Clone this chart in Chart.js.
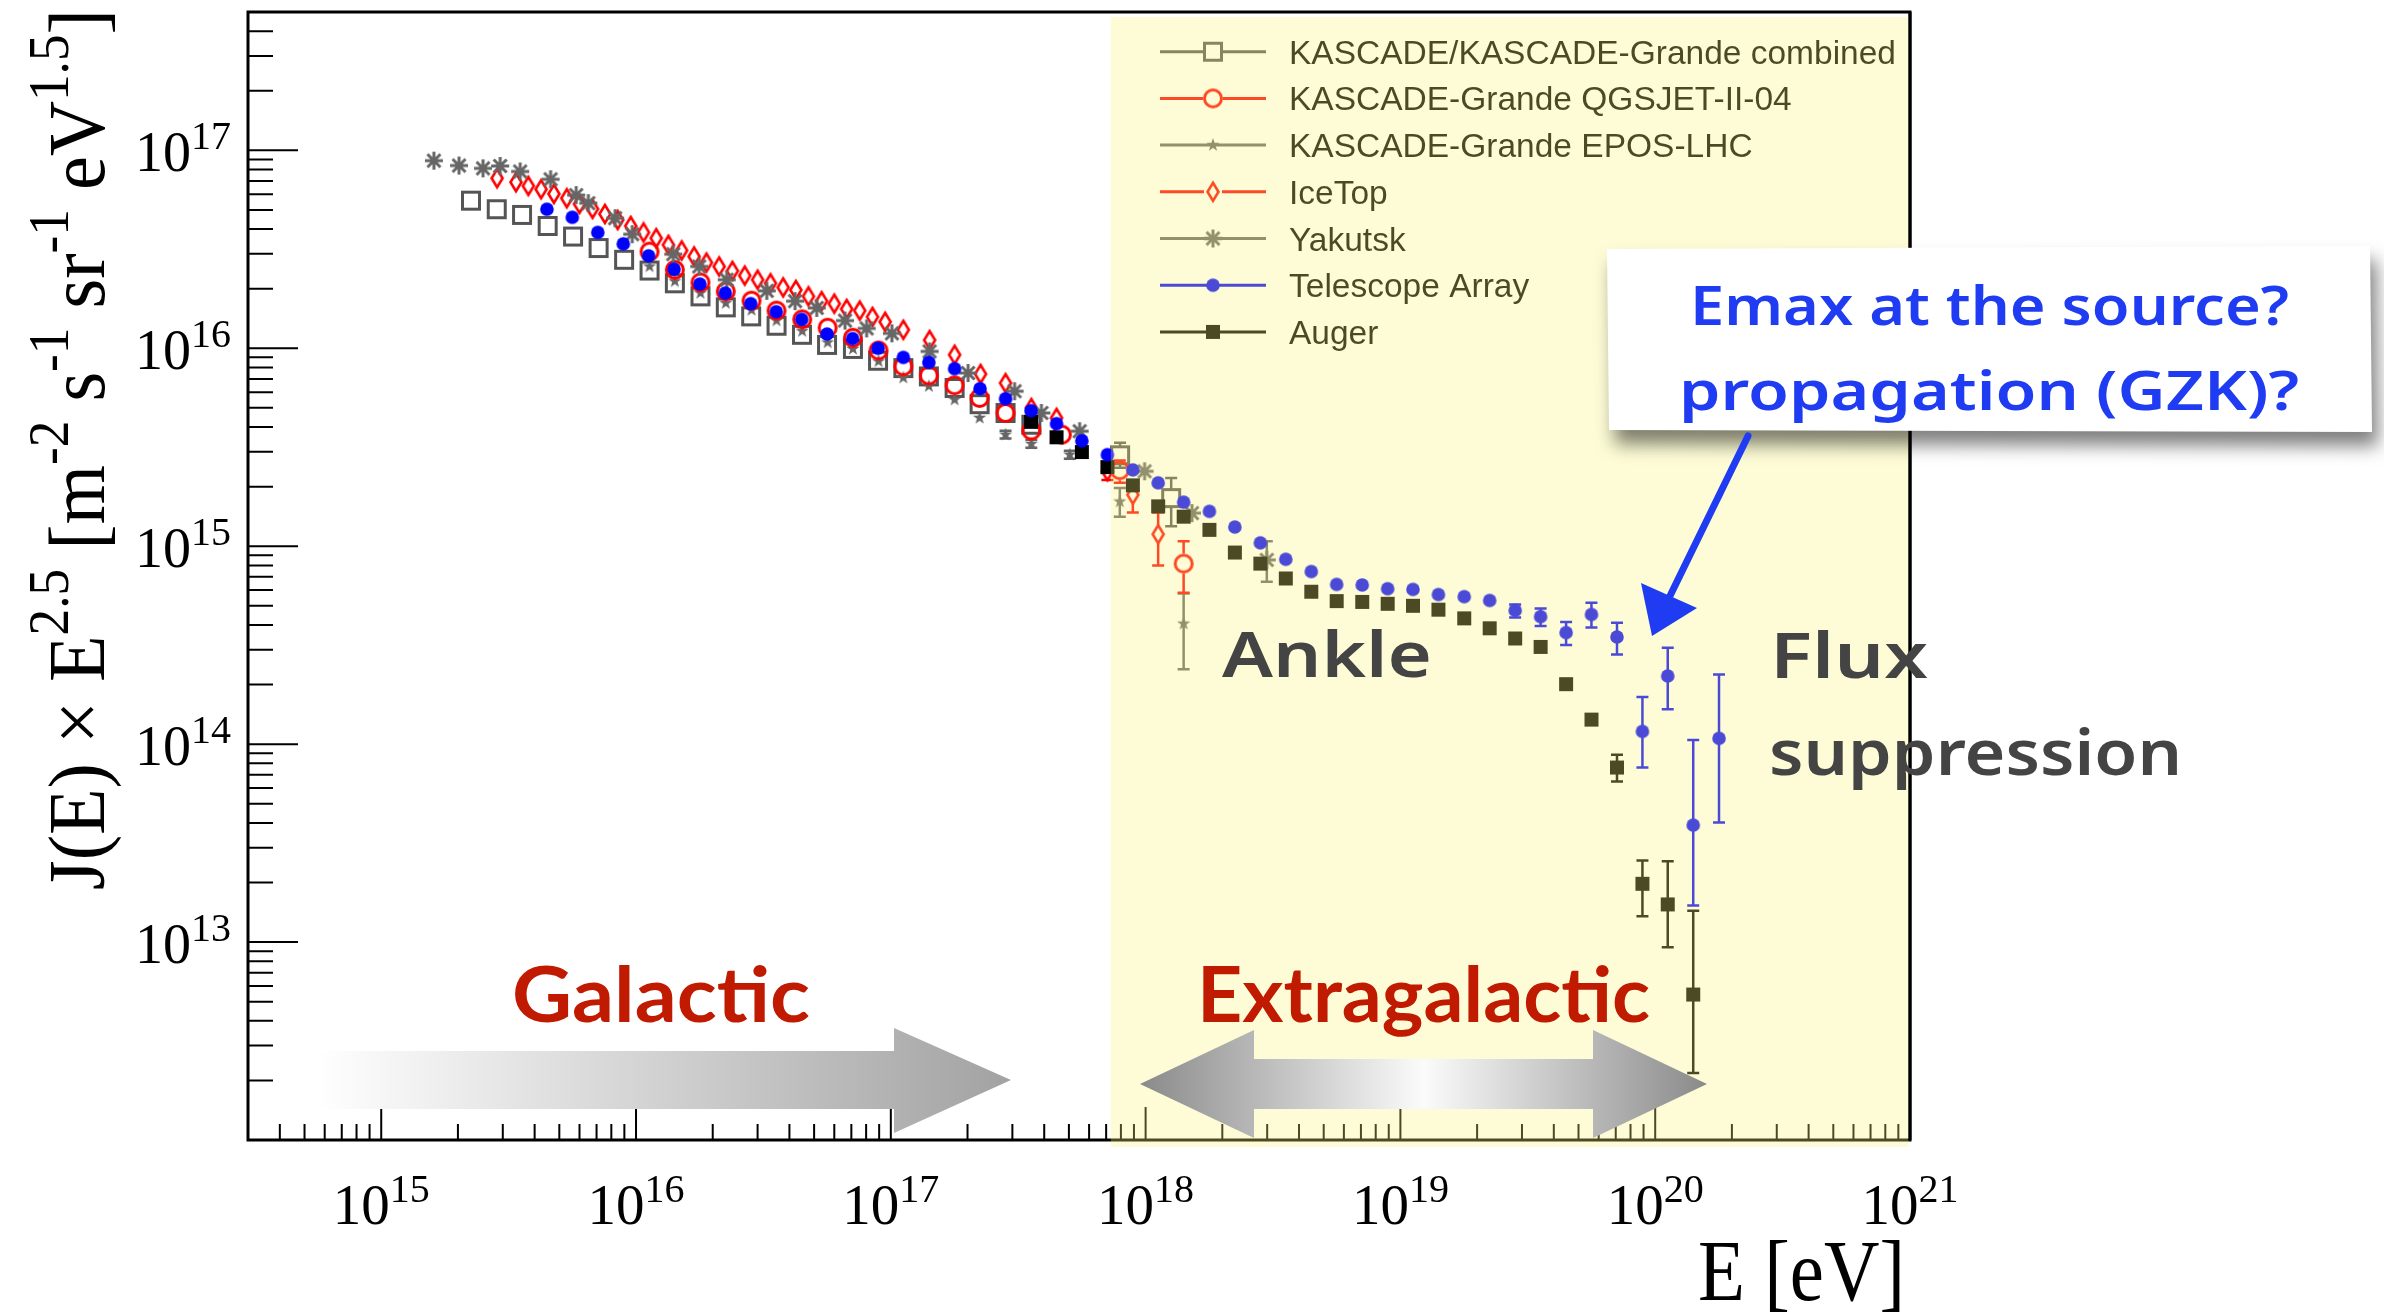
<!DOCTYPE html>
<html>
<head>
<meta charset="utf-8">
<title>Cosmic ray energy spectrum</title>
<script src="https://cdn.jsdelivr.net/npm/chart.js@4.4.1/dist/chart.umd.min.js"></script>
<style>
  html, body { margin: 0; padding: 0; background: #fff; }
  #wrap { width: 2384px; height: 1316px; }
</style>
</head>
<body>
<div id="wrap"><canvas id="spectrum" width="2384" height="1316"></canvas></div>
<script>
// ---- energies [eV] and flux J(E)*E^2.5 per experiment ----
const kgCombE = [2.25e15, 2.84e15, 3.57e15, 4.50e15, 5.66e15, 7.13e15, 8.98e15, 1.13e16, 1.42e16, 1.79e16, 2.25e16, 2.83e16, 3.56e16, 4.48e16, 5.62e16, 7.10e16, 8.91e16, 1.12e17, 1.41e17, 1.78e17, 2.23e17, 2.82e17, 3.56e17, 7.94e17, 1.26e18];
const kgCombJ = [5.57e16, 5.04e16, 4.72e16, 4.15e16, 3.67e16, 3.21e16, 2.80e16, 2.47e16, 2.13e16, 1.83e16, 1.61e16, 1.45e16, 1.30e16, 1.17e16, 1.04e16, 9.93e15, 8.65e15, 7.94e15, 7.21e15, 6.30e15, 5.22e15, 4.71e15, 4.11e15, 2.88e15, 1.75e15];
const kgCombErrE = [7.94e17, 1.26e18];
const kgCombErrLo = [2.49e15, 1.26e15];
const kgCombErrHi = [3.33e15, 2.21e15];

const qgsE = [1.13e16, 1.42e16, 1.79e16, 2.25e16, 2.84e16, 3.56e16, 4.49e16, 5.65e16, 7.10e16, 8.95e16, 1.12e17, 1.41e17, 1.78e17, 2.23e17, 2.82e17, 3.56e17, 4.69e17, 7.92e17, 1.41e18];
const qgsJ = [3.08e16, 2.49e16, 2.15e16, 1.94e16, 1.74e16, 1.55e16, 1.40e16, 1.27e16, 1.13e16, 9.75e15, 8.11e15, 7.29e15, 6.50e15, 5.61e15, 4.71e15, 3.84e15, 3.66e15, 2.42e15, 8.17e14];
const qgsErrE = [7.92e17, 1.41e18];
const qgsErrLo = [2.09e15, 5.82e14];
const qgsErrHi = [2.71e15, 1.06e15];

const eposE = [1.13e16, 1.42e16, 1.79e16, 2.25e16, 2.84e16, 3.56e16, 4.49e16, 5.65e16, 7.10e16, 8.95e16, 1.12e17, 1.41e17, 1.78e17, 2.23e17, 2.82e17, 3.56e17, 5.04e17, 7.92e17, 1.41e18];
const eposJ = [2.59e16, 2.18e16, 1.90e16, 1.69e16, 1.56e16, 1.38e16, 1.22e16, 1.07e16, 9.93e15, 8.59e15, 7.10e15, 6.43e15, 5.50e15, 4.45e15, 3.66e15, 3.29e15, 2.90e15, 1.68e15, 4.06e14];
const eposErrE = [2.82e17, 3.56e17, 5.04e17, 7.92e17, 1.41e18];
const eposErrLo = [3.50e15, 3.14e15, 2.77e15, 1.41e15, 2.39e14];
const eposErrHi = [3.83e15, 3.45e15, 3.04e15, 1.97e15, 5.77e14];

const iceTopE = [2.85e15, 3.38e15, 3.78e15, 4.24e15, 4.76e15, 5.35e15, 6.00e15, 6.75e15, 7.55e15, 8.47e15, 9.53e15, 1.07e16, 1.20e16, 1.34e16, 1.51e16, 1.69e16, 1.89e16, 2.12e16, 2.39e16, 2.67e16, 3.00e16, 3.37e16, 3.78e16, 4.24e16, 4.75e16, 5.35e16, 6.00e16, 6.71e16, 7.55e16, 8.47e16, 9.50e16, 1.12e17, 1.42e17, 1.78e17, 2.25e17, 2.82e17, 3.56e17, 4.47e17, 7.08e17, 8.91e17, 1.12e18];
const iceTopJ = [7.23e16, 6.90e16, 6.61e16, 6.36e16, 6.03e16, 5.73e16, 5.36e16, 5.06e16, 4.77e16, 4.45e16, 4.15e16, 3.85e16, 3.60e16, 3.33e16, 3.12e16, 2.91e16, 2.71e16, 2.59e16, 2.46e16, 2.33e16, 2.22e16, 2.13e16, 2.03e16, 1.97e16, 1.83e16, 1.73e16, 1.68e16, 1.58e16, 1.55e16, 1.44e16, 1.36e16, 1.24e16, 1.10e16, 9.27e15, 7.41e15, 6.67e15, 4.99e15, 4.45e15, 2.39e15, 1.82e15, 1.15e15];
const iceTopErrE = [7.08e17, 8.91e17, 1.12e18];
const iceTopErrLo = [2.16e15, 1.48e15, 8.0e14];
const iceTopErrHi = [2.49e15, 2.01e15, 1.48e15];

const yakutskE = [1.61e15, 2.02e15, 2.51e15, 2.93e15, 3.51e15, 4.62e15, 5.82e15, 6.50e15, 8.28e15, 9.66e15, 1.40e16, 1.77e16, 2.27e16, 3.26e16, 4.21e16, 5.12e16, 6.61e16, 8.04e16, 1.01e17, 1.42e17, 2.01e17, 3.06e17, 3.90e17, 5.51e17, 9.91e17, 1.52e18, 2.99e18];
const yakutskJ = [8.87e16, 8.38e16, 8.11e16, 8.34e16, 7.82e16, 7.14e16, 5.94e16, 5.41e16, 4.54e16, 3.77e16, 2.99e16, 2.59e16, 2.22e16, 1.95e16, 1.73e16, 1.60e16, 1.38e16, 1.26e16, 1.19e16, 9.64e15, 7.50e15, 6.07e15, 4.71e15, 3.81e15, 2.39e15, 1.47e15, 8.53e14];
const yakutskErrE = [2.99e18];
const yakutskErrLo = [6.61e14];
const yakutskErrHi = [1.06e15];

const taE = [4.47e15, 5.62e15, 7.08e15, 8.91e15, 1.12e16, 1.41e16, 1.78e16, 2.24e16, 2.82e16, 3.55e16, 4.47e16, 5.62e16, 7.08e16, 8.91e16, 1.12e17, 1.41e17, 1.78e17, 2.24e17, 2.82e17, 3.55e17, 4.47e17, 5.62e17, 7.08e17, 8.91e17, 1.12e18, 1.41e18, 1.78e18, 2.24e18, 2.82e18, 3.55e18, 4.47e18, 5.62e18, 7.08e18, 8.91e18, 1.12e19, 1.41e19, 1.78e19, 2.24e19, 2.82e19, 3.55e19, 4.47e19, 5.62e19, 7.08e19, 8.91e19, 1.12e20, 1.41e20, 1.78e20];
const taJ = [5.04e16, 4.59e16, 3.85e16, 3.37e16, 2.93e16, 2.51e16, 2.11e16, 1.90e16, 1.68e16, 1.53e16, 1.40e16, 1.18e16, 1.12e16, 1.00e16, 8.99e15, 8.49e15, 7.89e15, 6.25e15, 5.56e15, 4.84e15, 4.16e15, 3.41e15, 2.90e15, 2.43e15, 2.09e15, 1.67e15, 1.50e15, 1.25e15, 1.04e15, 8.59e14, 7.45e14, 6.41e14, 6.37e14, 6.10e14, 6.05e14, 5.70e14, 5.56e14, 5.32e14, 4.74e14, 4.41e14, 3.66e14, 4.52e14, 3.48e14, 1.16e14, 2.21e14, 3.90e13, 1.07e14];
const taErrE = [2.82e19, 3.55e19, 4.47e19, 5.62e19, 7.08e19, 8.91e19, 1.12e20, 1.41e20, 1.78e20];
const taErrLo = [4.36e14, 3.95e14, 3.17e14, 3.88e14, 2.84e14, 7.62e13, 1.50e14, 1.53e13, 4.02e13];
const taErrHi = [5.08e14, 4.85e14, 4.14e14, 5.18e14, 4.10e14, 1.73e14, 3.07e14, 1.05e14, 2.25e14];

const augerE = [3.55e17, 4.47e17, 5.62e17, 7.08e17, 8.91e17, 1.12e18, 1.41e18, 1.78e18, 2.24e18, 2.82e18, 3.55e18, 4.47e18, 5.62e18, 7.08e18, 8.91e18, 1.12e19, 1.41e19, 1.78e19, 2.24e19, 2.82e19, 3.55e19, 4.47e19, 5.62e19, 7.08e19, 8.91e19, 1.12e20, 1.41e20];
const augerJ = [4.25e15, 3.55e15, 2.99e15, 2.51e15, 2.03e15, 1.59e15, 1.41e15, 1.21e15, 9.29e14, 8.17e14, 6.87e14, 5.89e14, 5.28e14, 5.23e14, 5.12e14, 5.00e14, 4.78e14, 4.32e14, 3.85e14, 3.42e14, 3.10e14, 2.01e14, 1.33e14, 7.62e13, 1.97e13, 1.55e13, 5.43e12];
const augerErrE = [7.08e19, 8.91e19, 1.12e20, 1.41e20];
const augerErrLo = [6.47e13, 1.35e13, 9.42e12, 2.18e12];
const augerErrHi = [8.83e13, 2.58e13, 2.56e13, 1.44e13];

// axis ranges and labelled decades
const xMin = 3e14, xMax = 1e21;
const yMin = 1e12, yMax = 5e17;
const xTickExp = [15, 16, 17, 18, 19, 20, 21];
const yTickExp = [13, 14, 15, 16, 17];
const extragalacticFrom = 7.3e17;

// ---- marker images (ROOT-like symbols) ----
function marker(w, h, paint) {
    const c = document.createElement('canvas');
    c.width = w; c.height = h;
    paint(c.getContext('2d'), w / 2, h / 2);
    return c;
}

const mkOpenSquare = marker(26, 26, (g, cx, cy) => {
    g.strokeStyle = '#555'; g.lineWidth = 3;
    g.strokeRect(cx - 8.5, cy - 8.5, 17, 17);
});
const mkOpenCircle = marker(26, 26, (g, cx, cy) => {
    g.strokeStyle = '#ff0000'; g.lineWidth = 3;
    g.beginPath(); g.arc(cx, cy, 8.5, 0, Math.PI * 2); g.stroke();
});
const mkStar = marker(18, 18, (g, cx, cy) => {
    g.fillStyle = '#666';
    g.beginPath();
    for (let i = 0; i < 10; i++) {
        const r = i % 2 ? 2.8 : 7;
        const a = -Math.PI / 2 + i * Math.PI / 5;
        g.lineTo(cx + r * Math.cos(a), cy + r * Math.sin(a));
    }
    g.closePath(); g.fill();
});
const mkDiamond = marker(18, 24, (g, cx, cy) => {
    g.strokeStyle = '#ff0000'; g.lineWidth = 2.6;
    g.beginPath();
    g.moveTo(cx, cy - 9); g.lineTo(cx + 5.5, cy); g.lineTo(cx, cy + 9); g.lineTo(cx - 5.5, cy);
    g.closePath(); g.stroke();
});
const mkAsterisk = marker(24, 24, (g, cx, cy) => {
    g.strokeStyle = '#666'; g.lineWidth = 3;
    g.beginPath();
    g.moveTo(cx - 9, cy); g.lineTo(cx + 9, cy);
    g.moveTo(cx, cy - 9); g.lineTo(cx, cy + 9);
    g.moveTo(cx - 6.5, cy - 6.5); g.lineTo(cx + 6.5, cy + 6.5);
    g.moveTo(cx - 6.5, cy + 6.5); g.lineTo(cx + 6.5, cy - 6.5);
    g.stroke();
});
const mkDot = marker(16, 16, (g, cx, cy) => {
    g.fillStyle = '#0000ff';
    g.beginPath(); g.arc(cx, cy, 6.8, 0, Math.PI * 2); g.fill();
});
const mkBlock = marker(16, 16, (g, cx, cy) => {
    g.fillStyle = '#000';
    g.fillRect(cx - 7, cy - 7, 14, 14);
});

const pts = (xs, ys) => xs.map((x, i) => ({ x, y: ys[i] }));

const datasets = [
    { label: 'KASCADE/KASCADE-Grande combined', data: pts(kgCombE, kgCombJ), pointStyle: mkOpenSquare, color: '#555', gap: 9, order: 7,
      err: { e: kgCombErrE, lo: kgCombErrLo, hi: kgCombErrHi } },
    { label: 'KASCADE-Grande QGSJET-II-04', data: pts(qgsE, qgsJ), pointStyle: mkOpenCircle, color: '#ff0000', gap: 10, order: 5,
      err: { e: qgsErrE, lo: qgsErrLo, hi: qgsErrHi } },
    { label: 'KASCADE-Grande EPOS-LHC', data: pts(eposE, eposJ), pointStyle: mkStar, color: '#666', gap: 0, order: 6,
      err: { e: eposErrE, lo: eposErrLo, hi: eposErrHi } },
    { label: 'IceTop', data: pts(iceTopE, iceTopJ), pointStyle: mkDiamond, color: '#ff0000', gap: 9, order: 4,
      err: { e: iceTopErrE, lo: iceTopErrLo, hi: iceTopErrHi } },
    { label: 'Yakutsk', data: pts(yakutskE, yakutskJ), pointStyle: mkAsterisk, color: '#666', gap: 0, order: 3,
      err: { e: yakutskErrE, lo: yakutskErrLo, hi: yakutskErrHi } },
    { label: 'Telescope Array', data: pts(taE, taJ), pointStyle: mkDot, color: '#0000ff', gap: 0, order: 1,
      err: { e: taErrE, lo: taErrLo, hi: taErrHi } },
    { label: 'Auger', data: pts(augerE, augerJ), pointStyle: mkBlock, color: '#000', gap: 0, order: 2,
      err: { e: augerErrE, lo: augerErrLo, hi: augerErrHi } }
];
datasets.forEach(ds => { ds.pointRadius = 8; ds.showLine = false; });

// ---- text helpers ----
const SERIF = '"Liberation Serif", "Times New Roman", serif';

// parts: [text, isSuperscript]
function drawRich(ctx, parts, x, y, o) {
    const widths = parts.map(([t, sup]) => {
        ctx.font = sup ? o.sup : o.main;
        return ctx.measureText(t).width;
    });
    const total = widths.reduce((a, b) => a + b, 0);
    const sx = o.width ? o.width / total : 1;
    ctx.save();
    ctx.translate(x, y);
    if (o.rotate) ctx.rotate(o.rotate);
    ctx.scale(sx, 1);
    ctx.fillStyle = o.color || '#000';
    ctx.textBaseline = 'alphabetic';
    ctx.textAlign = 'left';
    let cx = o.align === 'right' ? -total : o.align === 'center' ? -total / 2 : 0;
    parts.forEach(([t, sup], i) => {
        ctx.font = sup ? o.sup : o.main;
        ctx.fillText(t, cx, sup ? -o.rise : 0);
        cx += widths[i];
    });
    ctx.restore();
}

function fitText(ctx, text, x, y, width, font, color) {
    ctx.save();
    ctx.font = font;
    ctx.fillStyle = color;
    ctx.textAlign = 'left';
    ctx.textBaseline = 'alphabetic';
    const w = ctx.measureText(text).width;
    ctx.translate(x, y);
    ctx.scale(width / w, 1);
    ctx.fillText(text, 0, 0);
    ctx.restore();
}

// ---- plugins ----
const errorBars = {
    id: 'errorBars',
    beforeDatasetDraw(chart, args) {
        const ds = chart.data.datasets[args.index];
        if (!ds.err) return;
        const { ctx, chartArea: a, scales: { x, y } } = chart;
        ctx.save();
        ctx.beginPath(); ctx.rect(a.left, a.top, a.width, a.height); ctx.clip();
        ctx.strokeStyle = ds.color;
        ctx.lineWidth = 2.5;
        ds.err.e.forEach((e, i) => {
            const p = ds.data.find(d => d.x === e);
            const px = x.getPixelForValue(e);
            const cy = y.getPixelForValue(p.y);
            const yHi = y.getPixelForValue(ds.err.hi[i]);
            const yLo = y.getPixelForValue(ds.err.lo[i]);
            ctx.beginPath();
            if (yHi < cy - ds.gap) { ctx.moveTo(px, cy - ds.gap); ctx.lineTo(px, yHi); }
            if (yLo > cy + ds.gap) { ctx.moveTo(px, cy + ds.gap); ctx.lineTo(px, yLo); }
            ctx.moveTo(px - 6, yHi); ctx.lineTo(px + 6, yHi);
            ctx.moveTo(px - 6, yLo); ctx.lineTo(px + 6, yLo);
            ctx.stroke();
        });
        ctx.restore();
    }
};

const decor = {
    id: 'decor',
    afterDatasetsDraw(chart) {
        const { ctx, chartArea: a, scales: { x, y } } = chart;
        ctx.save();

        // ticks pointing into the frame
        ctx.strokeStyle = '#000';
        ctx.lineWidth = 2;
        ctx.beginPath();
        for (let d = 14; d <= 21; d++) {
            for (let m = 1; m <= 9; m++) {
                const v = m * 10 ** d;
                if (v < xMin * 0.999 || v > xMax * 1.001) continue;
                const px = x.getPixelForValue(v);
                ctx.moveTo(px, a.bottom);
                ctx.lineTo(px, a.bottom - (m === 1 ? 33 : 16));
            }
        }
        for (let d = 12; d <= 17; d++) {
            for (let m = 1; m <= 9; m++) {
                const v = m * 10 ** d;
                if (v < yMin * 1.001 || v > yMax * 0.999) continue;
                const py = y.getPixelForValue(v);
                ctx.moveTo(a.left, py);
                ctx.lineTo(a.left + (m === 1 ? 50 : 25), py);
            }
        }
        ctx.stroke();
        ctx.lineWidth = 3;
        ctx.strokeRect(a.left, a.top, a.width, a.height);

        // legend
        chart.data.datasets.forEach((ds, i) => {
            const ly = 51.7 + i * 46.7;
            const mx = 1213;
            ctx.strokeStyle = ds.color;
            ctx.lineWidth = 3;
            ctx.beginPath();
            ctx.moveTo(1160, ly); ctx.lineTo(mx - ds.gap, ly);
            ctx.moveTo(mx + ds.gap, ly); ctx.lineTo(1266, ly);
            ctx.stroke();
            const img = ds.pointStyle;
            ctx.drawImage(img, mx - img.width / 2, ly - img.height / 2);
            ctx.font = '33.5px "Liberation Sans", Arial, sans-serif';
            ctx.fillStyle = '#000';
            ctx.textAlign = 'left';
            ctx.textBaseline = 'alphabetic';
            ctx.fillText(ds.label, 1289, ly + 12);
        });

        // extragalactic band tint
        const bx = x.getPixelForValue(extragalacticFrom);
        ctx.fillStyle = 'rgba(250, 245, 120, 0.3)';
        ctx.fillRect(bx, a.top + 5, a.right - 1.5 - bx, a.bottom + 7 - (a.top + 5));
        ctx.strokeStyle = '#000';
        ctx.lineWidth = 3;
        ctx.beginPath();
        ctx.moveTo(a.right, a.top); ctx.lineTo(a.right, a.bottom);
        ctx.stroke();
        ctx.restore();
    },
    afterDraw(chart) {
        const { ctx, chartArea: a, scales: { x, y } } = chart;

        // tick labels
        xTickExp.forEach(n => {
            drawRich(ctx, [['10', false], [String(n), true]], x.getPixelForValue(10 ** n), 1224,
                { main: '57px ' + SERIF, sup: '40px ' + SERIF, rise: 22, align: 'center' });
        });
        yTickExp.forEach(n => {
            drawRich(ctx, [['10', false], [String(n), true]], 231, y.getPixelForValue(10 ** n) + 21,
                { main: '56px ' + SERIF, sup: '40px ' + SERIF, rise: 22, align: 'right' });
        });

        // axis titles
        drawRich(ctx, [['E [eV]', false]], a.right - 5, 1300,
            { main: '86px ' + SERIF, sup: '86px ' + SERIF, rise: 0, align: 'right', width: 207 });
        drawRich(ctx, [
            ['J(E) \u00d7 E', false], ['2.5', true], [' [m', false], ['-2', true], [' s', false], ['-1', true],
            [' sr', false], ['-1', true], [' eV', false], ['1.5', true], [']', false]
        ], 104, 9, { main: '80px ' + SERIF, sup: '56px ' + SERIF, rise: 36, align: 'right', width: 881, rotate: -Math.PI / 2 });

        ctx.save();
        // galactic arrow
        let g = ctx.createLinearGradient(316, 0, 1011, 0);
        g.addColorStop(0, 'rgba(255,255,255,1)');
        g.addColorStop(1, '#a2a2a2');
        ctx.fillStyle = g;
        ctx.beginPath();
        ctx.moveTo(316, 1051); ctx.lineTo(894, 1051); ctx.lineTo(894, 1028); ctx.lineTo(1011, 1080);
        ctx.lineTo(894, 1133); ctx.lineTo(894, 1109); ctx.lineTo(316, 1109);
        ctx.closePath(); ctx.fill();

        // extragalactic double arrow
        g = ctx.createLinearGradient(1140, 0, 1707, 0);
        g.addColorStop(0, '#8a8a8a');
        g.addColorStop(0.5, '#fbfbfb');
        g.addColorStop(1, '#8a8a8a');
        ctx.fillStyle = g;
        ctx.beginPath();
        ctx.moveTo(1140, 1084); ctx.lineTo(1254, 1030); ctx.lineTo(1254, 1059); ctx.lineTo(1593, 1059);
        ctx.lineTo(1593, 1030); ctx.lineTo(1707, 1084); ctx.lineTo(1593, 1138); ctx.lineTo(1593, 1109);
        ctx.lineTo(1254, 1109); ctx.lineTo(1254, 1138);
        ctx.closePath(); ctx.fill();

        fitText(ctx, 'Galactic', 512, 1022, 298, 'bold 76px Lato, sans-serif', '#c01a00');
        fitText(ctx, 'Extragalactic', 1197, 1022, 453, 'bold 76px Lato, sans-serif', '#c01a00');

        // hand-written notes
        fitText(ctx, 'Ankle', 1222, 677, 210, '600 64px "Noto Sans", sans-serif', '#444');
        fitText(ctx, 'Flux', 1770, 678, 158, '600 64px "Noto Sans", sans-serif', '#444');
        fitText(ctx, 'suppression', 1769, 775, 413, '600 64px "Noto Sans", sans-serif', '#444');

        // paper note with shadow
        ctx.save();
        ctx.shadowColor = 'rgba(0,0,0,0.5)';
        ctx.shadowBlur = 18;
        ctx.shadowOffsetX = 6;
        ctx.shadowOffsetY = 14;
        ctx.fillStyle = '#fff';
        ctx.beginPath();
        ctx.moveTo(1607, 249); ctx.lineTo(2370, 246); ctx.lineTo(2372, 432); ctx.lineTo(1609, 430);
        ctx.closePath(); ctx.fill();
        ctx.restore();

        const blue = '#1f3cf2';
        fitText(ctx, 'Emax at the source?', 1690, 325, 599, '600 54px "Noto Sans", sans-serif', blue);
        fitText(ctx, 'propagation (GZK)?', 1679, 410, 620, '600 54px "Noto Sans", sans-serif', blue);

        ctx.strokeStyle = blue;
        ctx.lineWidth = 7;
        ctx.lineCap = 'round';
        ctx.beginPath();
        ctx.moveTo(1748, 436); ctx.lineTo(1668, 600);
        ctx.stroke();
        ctx.fillStyle = blue;
        ctx.beginPath();
        ctx.moveTo(1641, 583); ctx.lineTo(1697, 608); ctx.lineTo(1652, 636);
        ctx.closePath(); ctx.fill();
        ctx.restore();
    }
};

new Chart(document.getElementById('spectrum'), {
    type: 'scatter',
    data: { datasets },
    options: {
        responsive: false,
        devicePixelRatio: 1,
        animation: false,
        events: [],
        layout: { padding: { left: 248, right: 2384 - 1910, top: 12, bottom: 1316 - 1140 } },
        scales: {
            x: { type: 'logarithmic', min: xMin, max: xMax, display: false },
            y: { type: 'logarithmic', min: yMin, max: yMax, display: false }
        },
        plugins: { legend: { display: false }, tooltip: { enabled: false } }
    },
    plugins: [errorBars, decor]
});
</script>
</body>
</html>
